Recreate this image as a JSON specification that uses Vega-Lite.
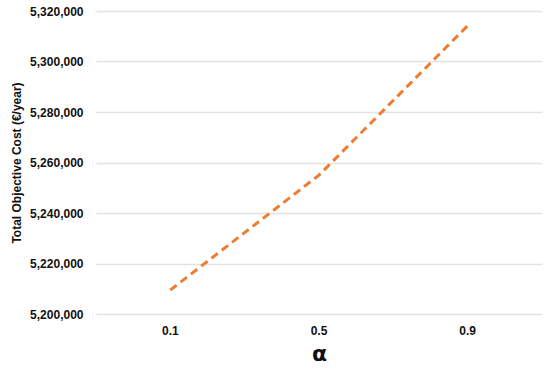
{
  "$schema": "https://vega.github.io/schema/vega-lite/v6.json",
  "autosize": "none",
  "width": 446,
  "height": 303,
  "padding": {"left": 96, "top": 11, "right": 8, "bottom": 54},
  "background": "white",
  "data": {"values": [
    {"alpha": "0.1", "cost": 5209500},
    {"alpha": "0.5", "cost": 5255000},
    {"alpha": "0.9", "cost": 5314200}
  ]},
  "mark": {"type": "line", "color": "#ED7D31", "strokeWidth": 3, "strokeDash": [8, 5], "strokeCap": "butt"},
  "encoding": {
    "x": {"field": "alpha", "type": "ordinal", "sort": null,
      "scale": {"type": "band", "paddingInner": 0, "paddingOuter": 0},
      "axis": {"title": "α", "labelAngle": 0, "domain": false, "ticks": false, "tickSize": 0, "grid": false,
        "labelFont": "Liberation Sans", "labelFontWeight": "bold", "labelFontSize": 12, "labelColor": "#111",
        "labelPadding": 11, "titleFont": "DejaVu Sans", "titleFontSize": 22, "titleFontWeight": "bold", "titleColor": "#111", "titlePadding": 7}},
    "y": {"field": "cost", "type": "quantitative",
      "scale": {"domain": [5200000, 5320000], "zero": false, "nice": false},
      "axis": {"title": "Total Objective Cost (€/year)", "values": [5200000, 5220000, 5240000, 5260000, 5280000, 5300000, 5320000],
        "format": ",d", "domain": false, "ticks": false, "tickSize": 0, "gridColor": "#e3e3e3", "gridWidth": 1.5,
        "labelFont": "Liberation Sans", "labelFontWeight": "bold", "labelFontSize": 12, "labelColor": "#111", "labelPadding": 13,
        "titleFont": "Liberation Sans", "titleFontWeight": "bold", "titleFontSize": 12, "titleColor": "#111", "titlePadding": 6}}
  },
  "config": {"view": {"stroke": null}}
}
